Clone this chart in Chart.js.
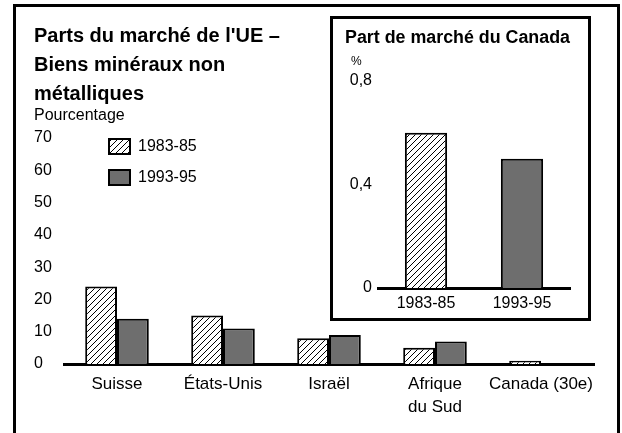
<!DOCTYPE html>
<html>
<head>
<meta charset="utf-8">
<script src="https://cdn.jsdelivr.net/npm/chart.js@4.4.1/dist/chart.umd.min.js"></script>
<style>
  body { margin: 0; background: #fff; width: 622px; height: 433px; overflow: hidden; position: relative; }
  #frame { position: absolute; left: 13px; top: 4px; width: 601px; height: 440px; border: 3px solid #000; }
  #inset { position: absolute; left: 330px; top: 16px; width: 255px; height: 299px; border: 3px solid #000; background: #fff; }
  canvas { display: block; }
</style>
</head>
<body>
<div id="frame"><canvas id="mainChart" width="601" height="426"></canvas></div>
<div id="inset"><canvas id="insetChart" width="255" height="299"></canvas></div>
<script>
var countries = ["Suisse", "États-Unis", "Israël", ["Afrique", "du Sud"], "Canada (30e)"];
var share8385 = [24, 15, 8, 5, 1];
var share9395 = [14, 11, 9, 7, null];
var yTicksMax = 70;
var yTicksStep = 10;

var insetLabels = ["1983-85", "1993-95"];
var insetValues = [0.6, 0.5];

var FONT = "'Liberation Sans', Arial, sans-serif";
var GREY = "rgb(110, 110, 110)";

// diagonal hatch like the printed chart
function makeHatch() {
  var c = document.createElement("canvas");
  c.width = 6;
  c.height = 6;
  var g = c.getContext("2d");
  g.fillStyle = "#fff";
  g.fillRect(0, 0, 6, 6);
  g.strokeStyle = "#000";
  g.lineWidth = 1;
  g.beginPath();
  g.moveTo(0, 6); g.lineTo(6, 0);
  g.moveTo(-1, 1); g.lineTo(1, -1);
  g.moveTo(5, 7); g.lineTo(7, 5);
  g.stroke();
  return g.createPattern(c, "repeat");
}
var hatch = makeHatch();

// legend sits inside the plot, stacked
var legendInside = {
  id: "legendInside",
  afterDatasetsDraw: function (chart) {
    var ctx = chart.ctx;
    var area = chart.chartArea;
    ctx.save();
    chart.data.datasets.forEach(function (ds, i) {
      var x = area.left + 45;
      var y = area.top + 1 + i * 31;
      ctx.fillStyle = ds.backgroundColor;
      ctx.fillRect(x, y, 21, 15);
      ctx.strokeStyle = "#000";
      ctx.lineWidth = 2;
      ctx.strokeRect(x, y, 21, 15);
      ctx.fillStyle = "#000";
      ctx.font = "16px " + FONT;
      ctx.textBaseline = "middle";
      ctx.fillText(ds.label, x + 29, y + 8);
    });
    ctx.restore();
  },
};

var ctx1 = document.getElementById("mainChart").getContext("2d");
var mainChart = new Chart(ctx1, {
  type: "bar",
  data: {
    labels: countries,
    datasets: [
      {
        label: "1983-85",
        data: share8385,
        backgroundColor: hatch,
        borderColor: "#000",
        borderWidth: 2,
      },
      {
        label: "1993-95",
        data: share9395,
        backgroundColor: GREY,
        borderColor: "#000",
        borderWidth: 2,
      },
    ],
  },
  options: {
    responsive: false,
    animation: false,
    layout: { padding: { left: 18, right: 23, top: 0, bottom: 0 } },
    datasets: { bar: { barPercentage: 1, categoryPercentage: 0.6 } },
    plugins: {
      legend: { display: false },
      tooltip: { enabled: false },
      title: {
        display: true,
        text: ["Parts du marché de l'UE –", "Biens minéraux non", "métalliques"],
        align: "start",
        color: "#000",
        font: { family: FONT, size: 20, weight: "bold", lineHeight: "29px" },
        padding: { top: 15, bottom: 0 },
      },
      subtitle: {
        display: true,
        text: "Pourcentage",
        align: "start",
        color: "#000",
        font: { family: FONT, size: 16, lineHeight: "12px" },
        padding: { top: 1, bottom: 16 },
      },
    },
    scales: {
      x: {
        grid: { display: false, drawTicks: false },
        border: { display: true, color: "#000", width: 3 },
        ticks: {
          color: "#000",
          padding: 9,
          maxRotation: 0,
          autoSkip: false,
          font: { family: FONT, size: 17, lineHeight: 1.35 },
        },
        afterFit: function (scale) { scale.height = 69; },
      },
      y: {
        min: 0,
        max: yTicksMax,
        grid: { display: false, drawTicks: false },
        border: { display: false },
        ticks: {
          stepSize: yTicksStep,
          color: "#000",
          crossAlign: "far",
          font: { family: FONT, size: 16 },
        },
        afterFit: function (scale) { scale.width = 30; },
      },
    },
  },
  plugins: [legendInside],
});

var ctx2 = document.getElementById("insetChart").getContext("2d");
var insetChart = new Chart(ctx2, {
  type: "bar",
  data: {
    labels: insetLabels,
    datasets: [
      {
        label: "Canada",
        data: insetValues,
        backgroundColor: [hatch, GREY],
        borderColor: "#000",
        borderWidth: 2,
        barPercentage: 0.44,
        categoryPercentage: 1,
      },
    ],
  },
  options: {
    responsive: false,
    animation: false,
    layout: { padding: { left: 12, right: 18, top: 0, bottom: 0 } },
    plugins: {
      legend: { display: false },
      tooltip: { enabled: false },
      title: {
        display: true,
        text: "Part de marché du Canada",
        color: "#000",
        font: { family: FONT, size: 18, weight: "bold", lineHeight: 1.2 },
        padding: { top: 8, bottom: 0 },
      },
      subtitle: {
        display: true,
        text: "\u2002%",
        align: "start",
        color: "#000",
        font: { family: FONT, size: 12, lineHeight: 1.2 },
        padding: { top: 6, bottom: 12 },
      },
    },
    scales: {
      x: {
        grid: { display: false, drawTicks: false },
        border: { display: true, color: "#000", width: 3 },
        ticks: { color: "#000", padding: 6, font: { family: FONT, size: 16 } },
        afterFit: function (scale) { scale.height = 30; },
      },
      y: {
        min: 0,
        max: 0.8,
        grid: { display: false, drawTicks: false },
        border: { display: false },
        ticks: {
          stepSize: 0.4,
          color: "#000",
          padding: 6,
          font: { family: FONT, size: 16 },
          callback: function (v) { return v === 0 ? "0" : v.toFixed(1).replace(".", ","); },
        },
        afterFit: function (scale) { scale.width = 33; },
      },
    },
  },
});
</script>
</body>
</html>
